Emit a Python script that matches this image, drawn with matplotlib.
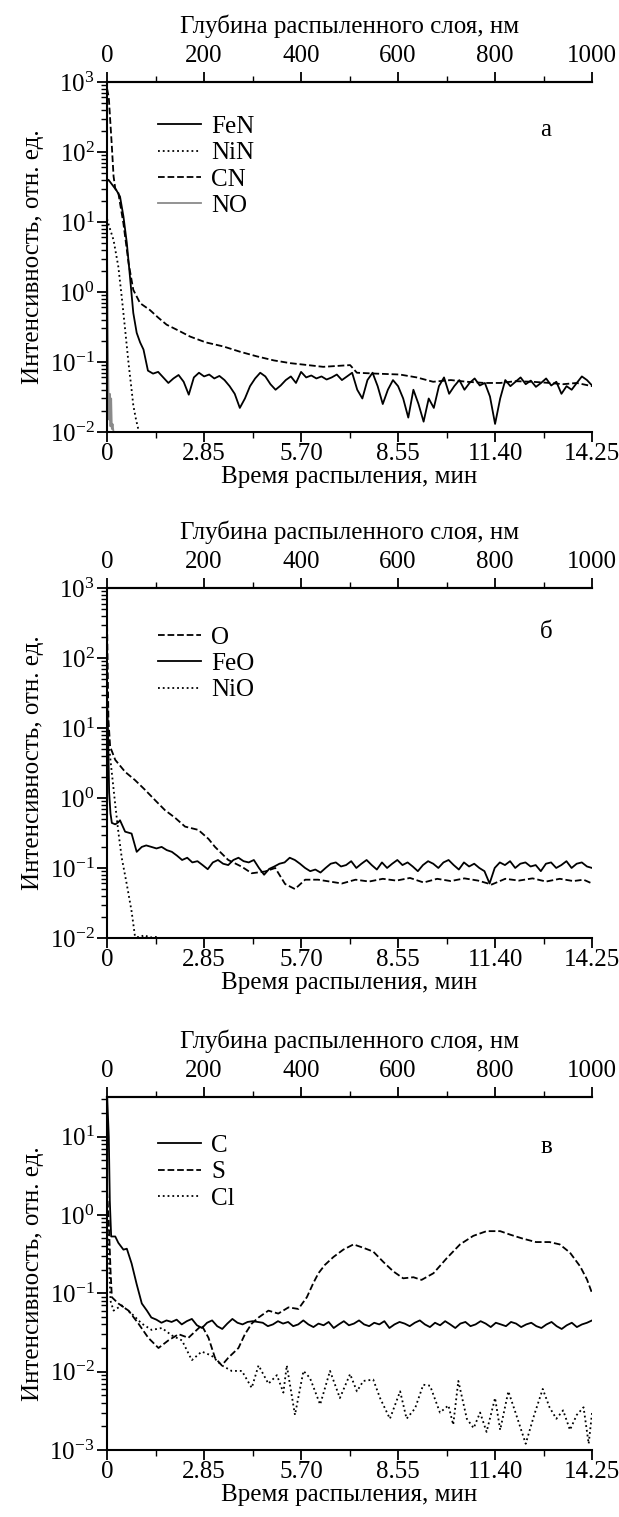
import numpy as np
import matplotlib
matplotlib.use('Agg')
import matplotlib.pyplot as plt
from matplotlib.ticker import LogLocator, FixedLocator, NullFormatter

plt.rcParams['font.family'] = ['Liberation Serif', 'DejaVu Serif']
plt.rcParams['mathtext.fontset'] = 'custom'
plt.rcParams['mathtext.rm'] = 'Liberation Serif'
plt.rcParams['mathtext.it'] = 'Liberation Serif:italic'
plt.rcParams['font.size'] = 18

# ---------------- panel a ----------------
t_fen_head = [0, 0.04, 0.15, 0.28, 0.38, 0.48, 0.58, 0.68, 0.77, 0.87, 0.97, 1.07]
fen_head = [38, 40, 34, 28, 23, 12, 5.0, 1.5, 0.5, 0.26, 0.19, 0.15]
t_tail_a = np.linspace(1.2, 14.25, 88)
fen_tail = [0.075, 0.068, 0.072, 0.060, 0.050, 0.058, 0.065, 0.052, 0.034, 0.060,
            0.070, 0.062, 0.066, 0.058, 0.063, 0.055, 0.045, 0.035, 0.022, 0.030,
            0.045, 0.058, 0.070, 0.062, 0.048, 0.040, 0.046, 0.055, 0.062, 0.050,
            0.072, 0.060, 0.064, 0.058, 0.062, 0.056, 0.060, 0.066, 0.055, 0.062,
            0.070, 0.040, 0.030, 0.055, 0.070, 0.045, 0.025, 0.040, 0.055, 0.045,
            0.030, 0.016, 0.040, 0.025, 0.014, 0.030, 0.022, 0.045, 0.060, 0.035,
            0.045, 0.055, 0.040, 0.050, 0.058, 0.046, 0.050, 0.032, 0.013, 0.030,
            0.055, 0.045, 0.052, 0.060, 0.048, 0.054, 0.044, 0.050, 0.058, 0.046,
            0.052, 0.035, 0.045, 0.040, 0.050, 0.062, 0.055, 0.046]

t_cn = [0, 0.05, 0.14, 0.19, 0.24, 0.33, 0.48, 0.63, 0.77, 0.97, 1.26, 1.5, 1.75, 2.1,
        2.44, 2.9, 3.42, 3.9, 4.4, 4.9, 5.38, 5.9, 6.35, 7.14, 7.34, 7.9, 8.6, 9.1,
        9.58, 10.1, 10.57, 11.1, 11.55, 12.0, 12.5, 13.0, 13.4, 13.8, 14.25]
cn = [800, 600, 120, 45, 30, 26, 9.5, 2.6, 1.07, 0.69, 0.55, 0.43, 0.34, 0.28,
      0.23, 0.19, 0.166, 0.14, 0.12, 0.105, 0.096, 0.09, 0.085, 0.09, 0.07, 0.068, 0.066, 0.06,
      0.052, 0.055, 0.052, 0.05, 0.05, 0.053, 0.052, 0.05, 0.048, 0.05, 0.045]

t_nin = [0, 0.05, 0.19, 0.33, 0.43, 0.53, 0.63, 0.72, 0.77, 0.85, 0.94]
nin = [11, 9, 5.5, 2.3, 0.85, 0.29, 0.096, 0.04, 0.024, 0.015, 0.0098]

t_no = [0, 0.02, 0.04, 0.06, 0.08, 0.10, 0.12, 0.14, 0.16, 0.20]
no = [3.5, 0.3, 0.04, 0.015, 0.035, 0.012, 0.03, 0.011, 0.013, 0.009]

# ---------------- panel b ----------------
t_o = [0, 0.02, 0.04, 0.09, 0.24, 0.53, 0.82, 1.12, 1.41, 1.7, 2.0, 2.29, 2.68, 2.98,
       3.17, 3.56, 3.96, 4.25, 4.64, 4.94, 5.23, 5.52, 5.82, 6.2, 6.9, 7.3, 7.7, 8.1,
       8.5, 8.9, 9.3, 9.7, 10.1, 10.5, 10.9, 11.3, 11.7, 12.1, 12.5, 12.9, 13.3, 13.7,
       14.0, 14.25]
o = [300, 60, 13, 5.4, 3.5, 2.36, 1.8, 1.3, 0.93, 0.67, 0.52, 0.39, 0.35, 0.26,
     0.2, 0.13, 0.104, 0.084, 0.089, 0.1, 0.059, 0.05, 0.068, 0.068, 0.06, 0.068, 0.064, 0.07,
     0.066, 0.072, 0.062, 0.07, 0.065, 0.071, 0.066, 0.058, 0.07, 0.066, 0.071, 0.064, 0.07, 0.065,
     0.068, 0.06]

t_feo_head = [0, 0.03, 0.06, 0.10, 0.14, 0.24, 0.33, 0.38, 0.53, 0.72, 0.87, 1.02]
feo_head = [30, 8, 1.2, 0.6, 0.44, 0.42, 0.45, 0.48, 0.33, 0.31, 0.17, 0.2]
t_tail_b = np.linspace(1.15, 14.25, 88)
feo_tail = [0.21, 0.2, 0.19, 0.2, 0.18, 0.17, 0.15, 0.13, 0.14, 0.12,
            0.125, 0.11, 0.096, 0.12, 0.13, 0.115, 0.11, 0.13, 0.14, 0.125,
            0.12, 0.13, 0.1, 0.08, 0.097, 0.105, 0.115, 0.12, 0.14, 0.13,
            0.115, 0.1, 0.09, 0.095, 0.086, 0.1, 0.115, 0.12, 0.105, 0.11,
            0.125, 0.1, 0.115, 0.13, 0.11, 0.095, 0.12, 0.1, 0.115, 0.13,
            0.11, 0.12, 0.105, 0.09, 0.11, 0.125, 0.115, 0.1, 0.12, 0.13,
            0.11, 0.095, 0.12, 0.105, 0.115, 0.1, 0.09, 0.06, 0.1, 0.12,
            0.11, 0.125, 0.1, 0.115, 0.12, 0.105, 0.11, 0.09, 0.115, 0.12,
            0.1, 0.11, 0.125, 0.1, 0.115, 0.12, 0.105, 0.1]

t_nio = [0, 0.05, 0.12, 0.24, 0.33, 0.43, 0.58, 0.72, 0.82, 0.95, 1.1, 1.25, 1.4, 1.55, 1.7]
nio = [15, 6, 2.8, 0.8, 0.33, 0.14, 0.058, 0.024, 0.0105, 0.0102, 0.011, 0.0101, 0.0104, 0.01, 0.009]

# ---------------- panel c ----------------
t_c_head = [0, 0.05, 0.08, 0.12, 0.24, 0.33, 0.48, 0.58, 0.72, 0.87, 1.02, 1.17]
c_head = [34, 10, 1.5, 0.53, 0.53, 0.44, 0.36, 0.37, 0.24, 0.13, 0.074, 0.06]
t_tail_c = np.linspace(1.3, 14.25, 88)
c_tail = [0.049, 0.046, 0.042, 0.045, 0.043, 0.046, 0.040, 0.044, 0.047, 0.039,
          0.036, 0.042, 0.045, 0.038, 0.035, 0.041, 0.047, 0.042, 0.040, 0.043,
          0.044, 0.043, 0.042, 0.038, 0.040, 0.044, 0.041, 0.043, 0.038, 0.040,
          0.045, 0.040, 0.037, 0.041, 0.039, 0.043, 0.036, 0.040, 0.044, 0.039,
          0.041, 0.045, 0.040, 0.038, 0.042, 0.040, 0.044, 0.036, 0.040, 0.043,
          0.041, 0.038, 0.042, 0.045, 0.040, 0.037, 0.042, 0.039, 0.044, 0.040,
          0.036, 0.041, 0.043, 0.038, 0.040, 0.044, 0.041, 0.037, 0.042, 0.040,
          0.038, 0.043, 0.041, 0.037, 0.040, 0.042, 0.038, 0.036, 0.040, 0.043,
          0.038, 0.035, 0.039, 0.042, 0.037, 0.040, 0.042, 0.045]

t_s = [0, 0.05, 0.1, 0.14, 0.33, 0.63, 0.92, 1.21, 1.51, 1.8, 2.1, 2.39, 2.78, 2.98,
       3.17, 3.37, 3.56, 3.86, 4.05, 4.25, 4.45, 4.74, 5.03, 5.33, 5.62, 5.87, 6.06,
       6.21, 6.4, 6.65, 6.94, 7.24, 7.53, 7.82, 8.12, 8.41, 8.7, 9.0, 9.24, 9.59,
       9.98, 10.37, 10.76, 11.15, 11.55, 11.84, 12.2, 12.6, 13.0, 13.3, 13.6, 13.9,
       14.1, 14.25]
s = [2.0, 0.8, 0.2, 0.089, 0.074, 0.06, 0.041, 0.027, 0.02, 0.025, 0.03, 0.027, 0.039, 0.027,
     0.015, 0.012, 0.015, 0.02, 0.03, 0.041, 0.049, 0.06, 0.055, 0.066, 0.063, 0.089, 0.135,
     0.18, 0.23, 0.29, 0.36, 0.42, 0.38, 0.34, 0.25, 0.19, 0.155, 0.16, 0.148, 0.18,
     0.28, 0.42, 0.54, 0.62, 0.62, 0.56, 0.5, 0.45, 0.45, 0.42, 0.33, 0.22,
     0.15, 0.1]

t_cl = [0, 0.05, 0.1, 0.19, 0.43, 0.72, 1.02, 1.31, 1.61, 1.9, 2.2, 2.49, 2.78, 3.07,
        3.37, 3.66, 3.96, 4.25, 4.45, 4.74, 4.99, 5.18, 5.28, 5.52, 5.77, 5.96, 6.26,
        6.55, 6.84, 7.14, 7.34, 7.53, 7.82, 8.02, 8.31, 8.61, 8.8, 9.05, 9.29, 9.49,
        9.78, 10.03, 10.17, 10.32, 10.57, 10.77, 10.96, 11.15, 11.4, 11.55, 11.79,
        12.0, 12.3, 12.55, 12.8, 13.0, 13.2, 13.4, 13.6, 13.8, 14.0, 14.15, 14.25]
cl = [1.0, 0.3, 0.08, 0.06, 0.07, 0.055, 0.041, 0.034, 0.036, 0.029, 0.025, 0.014, 0.018, 0.016,
      0.012, 0.0102, 0.0102, 0.0062, 0.012, 0.007, 0.009, 0.0054, 0.012, 0.0028, 0.0102, 0.0083, 0.0038,
      0.0102, 0.0046, 0.0093, 0.0056, 0.0076, 0.0079, 0.0046, 0.0025, 0.0056, 0.0025, 0.0034, 0.0068, 0.0066,
      0.003, 0.0037, 0.0021, 0.0076, 0.0025, 0.0019, 0.003, 0.0017, 0.0046, 0.0018, 0.0056,
      0.003, 0.0012, 0.0028, 0.006, 0.0035, 0.0025, 0.0032, 0.0018, 0.0028, 0.0035, 0.0012, 0.003]

xticks = [0, 2.85, 5.70, 8.55, 11.40, 14.25]
xticklabels = ['0', '2.85', '5.70', '8.55', '11.40', '14.25']
depth_ticks = [0, 200, 400, 600, 800, 1000]


def setup(ax, ylim, letter, ly):
    ax.set_yscale('log')
    ax.set_xlim(0, 14.25)
    ax.set_ylim(*ylim)
    ax.spines['right'].set_visible(False)
    for sp in ['left', 'bottom', 'top']:
        ax.spines[sp].set_linewidth(1.5)
    ax.set_xticks(xticks)
    ax.set_xticklabels(xticklabels)
    ax.xaxis.set_minor_locator(FixedLocator([1.425, 4.275, 7.125, 9.975, 12.825]))
    ax.yaxis.set_major_locator(LogLocator(base=10, numticks=10))
    ax.yaxis.set_minor_locator(LogLocator(base=10, subs=np.arange(2, 10), numticks=20))
    ax.yaxis.set_minor_formatter(NullFormatter())
    ax.tick_params(axis='both', which='major', direction='out', length=7, width=1.3)
    ax.tick_params(axis='both', which='minor', direction='out', length=4, width=1.0)
    ax.tick_params(axis='x', which='both', top=False, pad=1)
    ax.tick_params(axis='y', which='both', pad=2)
    ax.set_xlabel('Время распыления, мин', labelpad=1)
    ax.set_ylabel('Интенсивность, отн. ед.', labelpad=4)
    top = ax.secondary_xaxis('top', functions=(lambda t: t * 1000 / 14.25,
                                               lambda d: d * 14.25 / 1000))
    top.set_xticks(depth_ticks)
    top.xaxis.set_minor_locator(FixedLocator([100, 300, 500, 700, 900]))
    top.tick_params(which='major', direction='out', length=7, width=1.3)
    top.tick_params(which='minor', direction='out', length=4, width=1.0)
    top.spines['top'].set_linewidth(1.5)
    top.set_xlabel('Глубина распыленного слоя, нм', labelpad=9)
    ax.text(0.905, ly, letter, transform=ax.transAxes, fontsize=18,
            ha='center', va='center')


fig = plt.figure(figsize=(6.19, 15.17), dpi=100)
ax1 = fig.add_axes([0.173, 0.7153, 0.7835, 0.2307])
ax2 = fig.add_axes([0.173, 0.3817, 0.7835, 0.2307])
ax3 = fig.add_axes([0.173, 0.0442, 0.7835, 0.2327])

lw = 1.3
ax1.plot(t_fen_head + list(t_tail_a), fen_head + fen_tail, 'k-', lw=lw, label='FeN')
ax1.plot(t_nin, nin, 'k:', lw=lw, label='NiN')
ax1.plot(t_cn, cn, 'k--', lw=lw, label='CN')
ax1.plot(t_no, no, '-', color='#8a8a8a', lw=lw, label='NO')
setup(ax1, (1e-2, 1e3), 'а', 0.863)

ax2.plot(t_o, o, 'k--', lw=lw, label='O')
ax2.plot(t_feo_head + list(t_tail_b), feo_head + feo_tail, 'k-', lw=lw, label='FeO')
ax2.plot(t_nio, nio, 'k:', lw=lw, label='NiO')
setup(ax2, (1e-2, 1e3), 'б', 0.874)

ax3.plot(t_c_head + list(t_tail_c), c_head + c_tail, 'k-', lw=lw, label='C')
ax3.plot(t_s, s, 'k--', lw=lw, label='S')
ax3.plot(t_cl, cl, 'k:', lw=lw, label='Cl')
setup(ax3, (1e-3, 32), 'в', 0.858)

for ax, yy in [(ax1, 0.904), (ax2, 0.89), (ax3, 0.893)]:
    ax.legend(loc='upper left', bbox_to_anchor=(0.106, yy), frameon=False,
              handlelength=1.7, handletextpad=0.4, labelspacing=0.15,
              borderaxespad=0, borderpad=0, fontsize=18)

fig.savefig('out.png', dpi=100)
